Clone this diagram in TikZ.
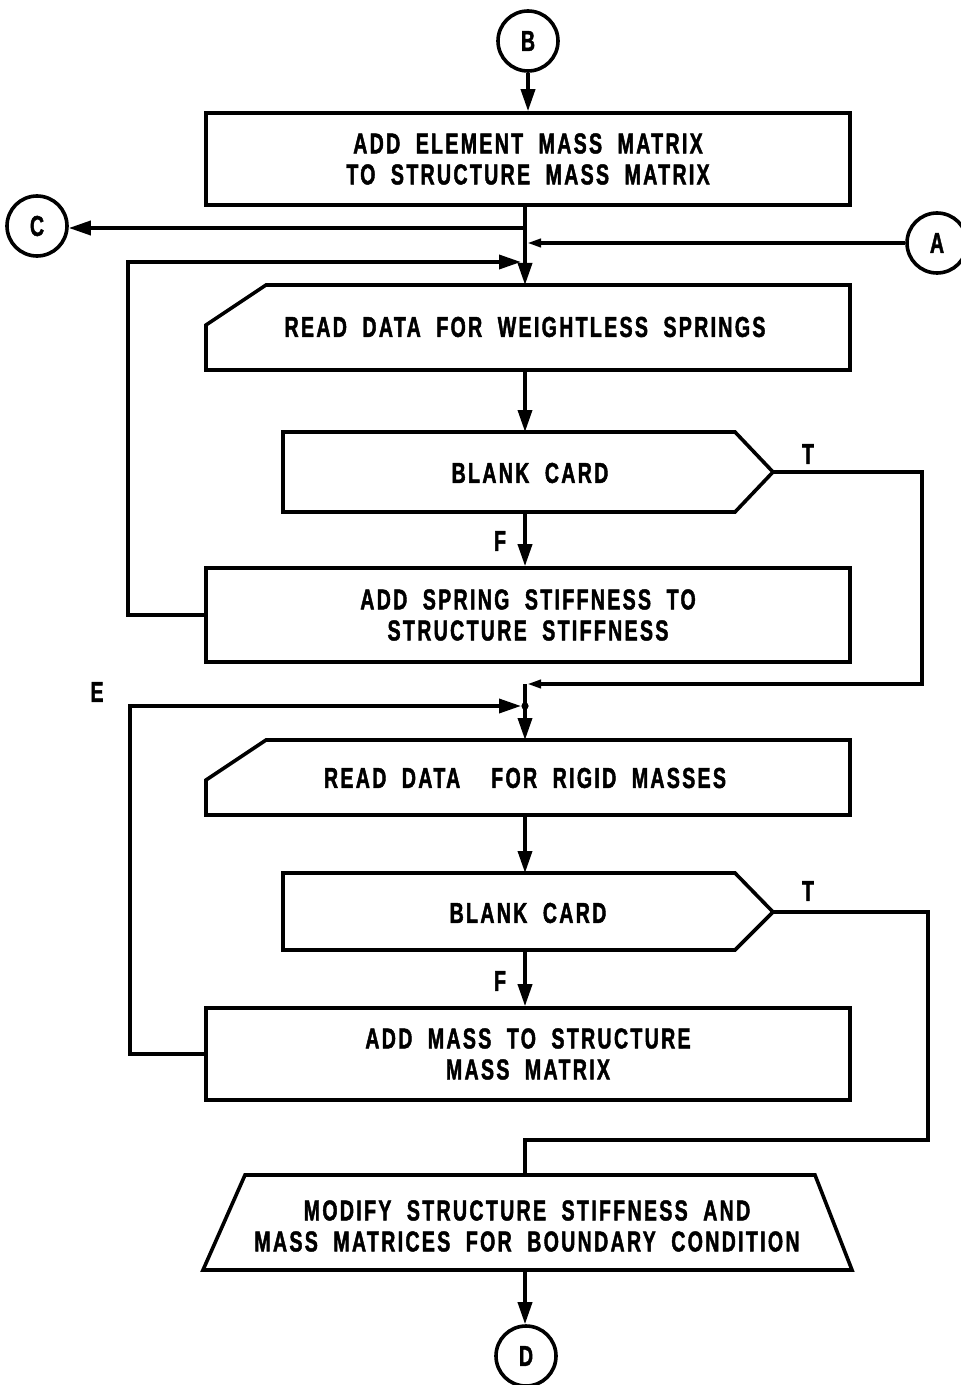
\documentclass[tikz,border=0pt]{standalone}
\usepackage{fontspec}
\newfontfamily\lbl{Liberation Sans Bold}[FakeStretch=0.68,LetterSpace=8,WordSpace=2,FakeBold=1.5]
\usetikzlibrary{arrows.meta}
\begin{document}
\begin{tikzpicture}[x=0.5pt,y=-0.5pt, line width=1.8pt,
 every node/.style={font=\lbl\fontsize{14.4}{15.5}\selectfont, align=center},
 box/.style={draw, minimum width=322pt, inner sep=0},
 conn/.style={draw, circle, minimum size=30pt, inner sep=0},
 txt/.style={inner sep=0},
 arr/.style={-{Triangle[length=11pt,width=7pt]}},
 sarr/.style={-{Triangle[length=7pt,width=4pt]}}]
\useasboundingbox (0,0) rectangle (961,1385);

% connectors (circles)
\node[conn] (B) at (528,41) {B};
\node[conn] (C) at (37,226) {C};
\node[conn] (A) at (937,243) {A};
\node[conn] (D) at (526,1356) {D};

% process boxes
\node[box, minimum height=46pt] (b1) at (528,159) {ADD ELEMENT MASS MATRIX\\TO STRUCTURE MASS MATRIX};
\node[box, minimum height=47pt] (b3) at (528,615) {ADD SPRING STIFFNESS TO\\STRUCTURE STIFFNESS};
\node[box, minimum height=46pt] (b4) at (528,1054) {ADD MASS TO STRUCTURE\\MASS MATRIX};

% card 1
\draw (206,370) -- (206,325) -- (266,285) -- (850,285) -- (850,370) -- cycle;
\node[txt] (c1) at (525,327) {READ DATA FOR WEIGHTLESS SPRINGS};
\coordinate (c1n) at (525,285);
\coordinate (c1s) at (525,370);

% decision 1
\draw (283,432) -- (735,432) -- (773,472) -- (735,512) -- (283,512) -- cycle;
\node[txt] (d1) at (530,473) {BLANK CARD};
\coordinate (d1n) at (525,432);
\coordinate (d1s) at (525,512);
\coordinate (d1t) at (773,472);

% card 2
\draw (206,815) -- (206,780) -- (266,740) -- (850,740) -- (850,815) -- cycle;
\node[txt] (c2) at (525,778) {READ DATA\ \ FOR RIGID MASSES};
\coordinate (c2n) at (525,740);
\coordinate (c2s) at (525,815);

% decision 2
\draw (283,873) -- (735,873) -- (773,912) -- (735,950) -- (283,950) -- cycle;
\node[txt] (d2) at (528,913) {BLANK CARD};
\coordinate (d2n) at (525,873);
\coordinate (d2s) at (525,950);
\coordinate (d2t) at (773,912);

% trapezoid
\draw (203,1270) -- (245,1175) -- (815,1175) -- (852,1270) -- cycle;
\node[txt] (tz) at (527,1226) {MODIFY STRUCTURE STIFFNESS AND\\MASS MATRICES FOR BOUNDARY CONDITION};
\coordinate (tzn) at (525,1175);
\coordinate (tzs) at (525,1270);

% labels
\node[txt] (t1) at (808,454) {T};
\node[txt] (t2) at (808,891) {T};
\node[txt] (f1) at (500,541) {F};
\node[txt] (f2) at (500,981) {F};
\node[txt] (e) at (97,692) {E};

% junction coordinates
\coordinate (j1a) at (525,205);
\coordinate (j1) at (525,240);
\coordinate (jc) at (525,228);
\coordinate (ja) at (527,243);
\coordinate (m1) at (521,262);
\coordinate (j2) at (525,684);
\coordinate (ja2) at (527,684);
\coordinate (m2) at (521,706);
\coordinate (k2) at (525,1140);

% flow
\draw[arr] (B.south) -- (B.south |- b1.north);
\draw (j1a) -- (j1);
\draw[arr] (jc) -- (jc -| C.east);
\draw[sarr] (A.west) -- (ja);
\draw[arr] (j1) -- (c1n);
\draw[arr] (b3.west) -- (128,615) -- (128,262) -- (m1);
\draw[arr] (c1s) -- (d1n);
\draw[arr] (d1s) -- (d1s |- b3.north);
\draw[sarr] (d1t) -- (922,472) -- (922,684) -- (ja2);
\draw[arr] (j2) -- (c2n);
\draw[arr] (b4.west) -- (130,1054) -- (130,706) -- (m2);
\fill (525,706) circle (1.8pt);
\draw[arr] (c2s) -- (d2n);
\draw[arr] (d2s) -- (d2s |- b4.north);
\draw (d2t) -- (928,912) -- (928,1140) -- (k2) -- (tzn);
\draw[arr] (tzs) -- (tzs |- D.north);
\end{tikzpicture}
\end{document}
